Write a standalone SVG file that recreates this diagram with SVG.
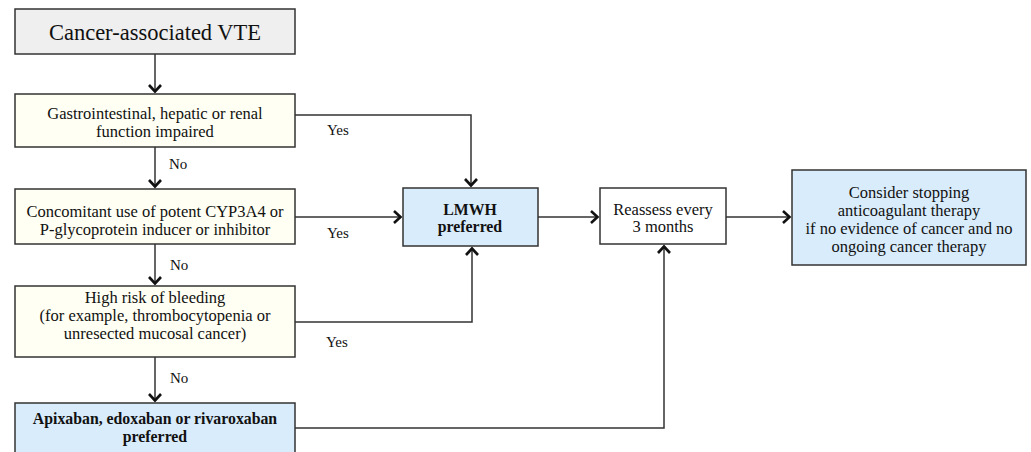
<svg xmlns="http://www.w3.org/2000/svg" width="1031" height="452" viewBox="0 0 1031 452">
<style>
.box{stroke:#333;stroke-width:1.5}
.gray{fill:#efefef}
.cream{fill:#fffff3}
.blue{fill:#d9ecfb}
.white{fill:#fff}
text{font-family:"Liberation Serif","DejaVu Serif",serif;fill:#111;text-anchor:middle}
.t{font-size:16.5px}
.b{font-size:15.8px;font-weight:bold}
.title{font-size:22.5px}
.lbl{font-size:15px;text-anchor:start}
.c{fill:none;stroke:#333;stroke-width:1.5}
</style>
<defs>
<marker id="arr" markerUnits="userSpaceOnUse" markerWidth="20" markerHeight="20" viewBox="-10 -10 20 20" refX="0" refY="0" orient="auto">
<path d="M-7,-6 L-0.5,0 L-7,6" fill="none" stroke="#111" stroke-width="2.6" stroke-linejoin="miter"/>
</marker>
</defs>
<rect width="1031" height="452" fill="#fff"/>
<g id="connectors">
<line class="c" x1="155" y1="54" x2="155" y2="92" marker-end="url(#arr)"/>
<line class="c" x1="155" y1="147" x2="155" y2="187" marker-end="url(#arr)"/>
<line class="c" x1="155" y1="244" x2="155" y2="284" marker-end="url(#arr)"/>
<line class="c" x1="155" y1="357" x2="155" y2="401" marker-end="url(#arr)"/>
<polyline class="c" points="295,115 471,115 471,186" marker-end="url(#arr)"/>
<line class="c" x1="295" y1="217" x2="401" y2="217" marker-end="url(#arr)"/>
<polyline class="c" points="295,322 472,322 472,248" marker-end="url(#arr)"/>
<line class="c" x1="538" y1="217" x2="598" y2="217" marker-end="url(#arr)"/>
<polyline class="c" points="295,428 664,428 664,246" marker-end="url(#arr)"/>
<line class="c" x1="726" y1="217" x2="790" y2="217" marker-end="url(#arr)"/>
<text class="lbl" x="169" y="169">No</text>
<text class="lbl" x="170" y="270">No</text>
<text class="lbl" x="170" y="383">No</text>
<text class="lbl" x="327" y="135">Yes</text>
<text class="lbl" x="327" y="238">Yes</text>
<text class="lbl" x="326" y="347">Yes</text>
</g>
<g id="start">
<rect class="box gray" x="15" y="9" width="280" height="45"/>
<text class="title" x="155" y="40">Cancer-associated VTE</text>
</g>
<g id="impaired">
<rect class="box cream" x="15" y="94" width="280" height="53"/>
<text class="t" x="155" y="119">Gastrointestinal, hepatic or renal</text>
<text class="t" x="155" y="137">function impaired</text>
</g>
<g id="cyp">
<rect class="box cream" x="15" y="189" width="280" height="55"/>
<text class="t" x="155" y="217">Concomitant use of potent CYP3A4 or</text>
<text class="t" x="155" y="235">P-glycoprotein inducer or inhibitor</text>
</g>
<g id="bleeding">
<rect class="box cream" x="15" y="286" width="280" height="71"/>
<text class="t" x="155" y="303">High risk of bleeding</text>
<text class="t" x="155" y="321">(for example, thrombocytopenia or</text>
<text class="t" x="155" y="339">unresected mucosal cancer)</text>
</g>
<g id="doac">
<rect class="box blue" x="15" y="403" width="280" height="60"/>
<text class="b" x="155" y="424">Apixaban, edoxaban or rivaroxaban</text>
<text class="b" x="155" y="442">preferred</text>
</g>
<g id="lmwh">
<rect class="box blue" x="403" y="188" width="135" height="58"/>
<text class="b" x="470" y="215">LMWH</text>
<text class="b" x="470" y="232">preferred</text>
</g>
<g id="reassess">
<rect class="box white" x="600" y="188" width="126" height="56"/>
<text class="t" x="663" y="215">Reassess every</text>
<text class="t" x="663" y="232">3 months</text>
</g>
<g id="stop">
<rect class="box blue" x="792" y="170" width="234" height="95"/>
<text class="t" x="909" y="198">Consider stopping</text>
<text class="t" x="909" y="216">anticoagulant therapy</text>
<text class="t" x="909" y="234">if no evidence of cancer and no</text>
<text class="t" x="909" y="252">ongoing cancer therapy</text>
</g>
</svg>
